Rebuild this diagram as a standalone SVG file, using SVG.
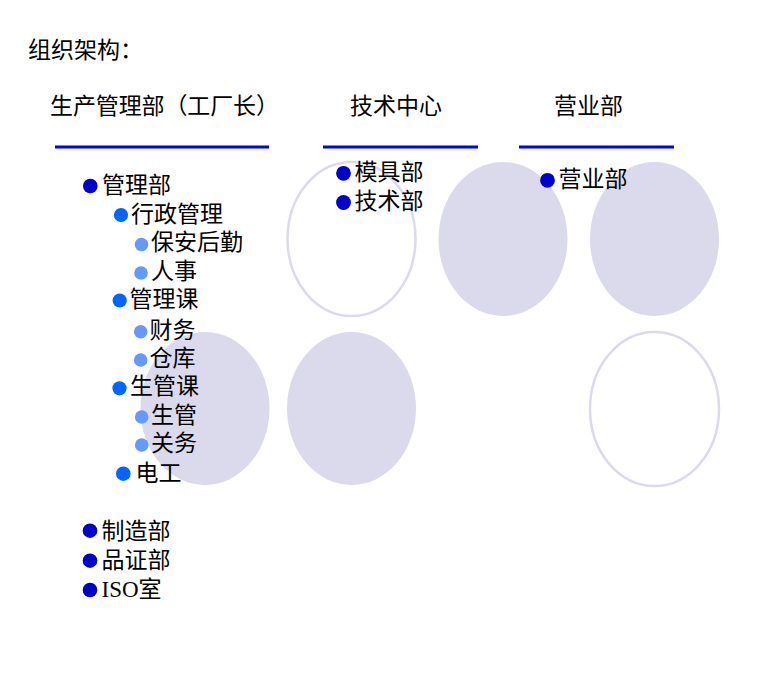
<svg xmlns="http://www.w3.org/2000/svg" width="774" height="695" viewBox="0 0 774 695">
<style>
text{font-family:"Liberation Serif","Noto Sans CJK SC",serif;font-size:23px;fill:#000;dominant-baseline:central}
.hd{font-size:23px}
.e-fill{fill:#DADAEC;stroke:none}
.e-line{fill:none;stroke:#DADAEC;stroke-width:2.5}
.rule{stroke:#0000FF;stroke-width:3}
.b1{fill:#0000CC}
.b2{fill:#0066FF}
.b3{fill:#6699FF}
</style>
<rect width="774" height="695" fill="#fff"/>
<g id="ellipses">
<ellipse class="e-fill" cx="205" cy="408.5" rx="64.5" ry="76.5"/>
<ellipse class="e-line" cx="351.5" cy="239" rx="64" ry="77"/>
<ellipse class="e-fill" cx="503" cy="239" rx="64.5" ry="77"/>
<ellipse class="e-fill" cx="654.5" cy="239" rx="64.5" ry="77"/>
<ellipse class="e-fill" cx="351.5" cy="408.5" rx="64.5" ry="76.5"/>
<ellipse class="e-line" cx="654.5" cy="409" rx="64.5" ry="77"/>
</g>
<g id="title"><text x="28" y="50">组织架构：</text></g>
<g id="header-production"><text class="hd" x="50" y="106" textLength="229" lengthAdjust="spacing">生产管理部（工厂长）</text><line class="rule" x1="55" y1="147" x2="269" y2="147"/></g>
<g id="header-tech"><text class="hd" x="350" y="106">技术中心</text><line class="rule" x1="323" y1="147" x2="478" y2="147"/></g>
<g id="header-sales"><text class="hd" x="554" y="106">营业部</text><line class="rule" x1="519" y1="147" x2="674" y2="147"/></g>
<g id="connectors"></g>
<g id="n-guanlibu"><circle class="b1" cx="90.3" cy="186" r="7.3"/><text x="102" y="185.5">管理部</text></g>
<g id="n-xingzheng"><circle class="b2" cx="121" cy="215" r="7.1"/><text x="131" y="214">行政管理</text></g>
<g id="n-baoan"><circle class="b3" cx="141.5" cy="244.5" r="6.8"/><text x="151" y="242.5">保安后勤</text></g>
<g id="n-renshi"><circle class="b3" cx="141" cy="273" r="6.8"/><text x="151" y="271">人事</text></g>
<g id="n-guanlike"><circle class="b2" cx="119.7" cy="300.5" r="7.1"/><text x="129.5" y="299">管理课</text></g>
<g id="n-caiwu"><circle class="b3" cx="140.7" cy="331.7" r="6.8"/><text x="149.5" y="330">财务</text></g>
<g id="n-cangku"><circle class="b3" cx="140.7" cy="360" r="6.8"/><text x="149.5" y="358">仓库</text></g>
<g id="n-shengguanke"><circle class="b2" cx="119.5" cy="388.3" r="7.1"/><text x="130" y="386.5">生管课</text></g>
<g id="n-shengguan"><circle class="b3" cx="141.7" cy="417" r="6.8"/><text x="151" y="415">生管</text></g>
<g id="n-guanwu"><circle class="b3" cx="141.7" cy="445" r="6.8"/><text x="151" y="443.5">关务</text></g>
<g id="n-diangong"><circle class="b2" cx="123.3" cy="473.7" r="7.3"/><text x="135.5" y="473">电工</text></g>
<g id="n-zhizao"><circle class="b1" cx="90" cy="530.7" r="7.3"/><text x="101.5" y="531">制造部</text></g>
<g id="n-pinzheng"><circle class="b1" cx="90" cy="560.7" r="7.3"/><text x="101.5" y="560">品证部</text></g>
<g id="n-iso"><circle class="b1" cx="90" cy="590" r="7.3"/><text x="101.5" y="589">ISO室</text></g>
<g id="n-moju"><circle class="b1" cx="343.5" cy="173.3" r="7.4"/><text x="354.5" y="172">模具部</text></g>
<g id="n-jishu"><circle class="b1" cx="343.5" cy="202.5" r="7.4"/><text x="354.5" y="201">技术部</text></g>
<g id="n-yingye"><circle class="b1" cx="547.5" cy="180.3" r="7.4"/><text x="558.5" y="179.5">营业部</text></g>
</svg>
